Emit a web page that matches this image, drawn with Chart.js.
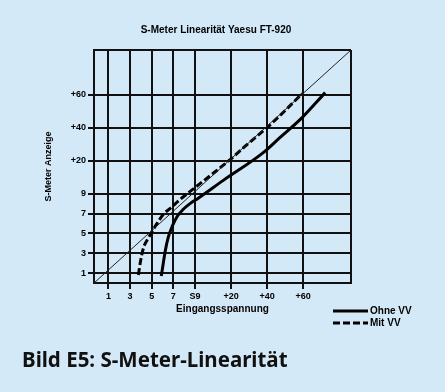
<!DOCTYPE html>
<html>
<head>
<meta charset="utf-8">
<script src="https://cdn.jsdelivr.net/npm/chart.js@4/dist/chart.umd.min.js"></script>
<style>
    html, body { margin: 0; padding: 0; background: #d4e9f7; }
    #wrap { position: relative; width: 445px; height: 392px; }
    #caption {
        position: absolute; left: 22px; top: 345px;
        font: bold 20.5px "Noto Sans", sans-serif; color: #111;
    }
</style>
</head>
<body>
<div id="wrap">
    <canvas id="chart" width="445" height="392"></canvas>
    <div id="caption">Bild E5: S-Meter-Linearität</div>
</div>
<script>
// axis positions in dB above S1 (S-unit = 6 dB)
const xTickValues = [0, 12, 24, 36, 48, 68, 88, 108];
const xTickLabels = ['1', '3', '5', '7', 'S9', '+20', '+40', '+60'];
const yTickValues = [0, 12, 24, 36, 48, 68, 88, 108];
const yTickLabels = ['1', '3', '5', '7', '9', '+20', '+40', '+60'];
const xMin = -8, xMax = 134.5;
const yMin = -6, yMax = 135;

// ideal line
const idealX = [-8, 134.5];
const idealY = [-6, 135];

// ohne Vorverstaerker
const ohneX = [29.3, 30.5, 31.6, 33.2, 35.4, 38.2, 41.5, 45.4, 49.8, 63.7, 85.3, 95.2, 107.4, 120.2];
const ohneY = [-1.8, 6.6, 13.9, 21.7, 28.4, 34.4, 38.6, 42.2, 45.3, 56.1, 72.4, 82.1, 94.1, 109.2];

// mit Vorverstaerker
const mitX = [16.6, 17.7, 19.4, 22.1, 26, 30.5, 34.3, 39.9, 48.2, 58.1, 67.6, 77, 88.6, 98, 107.4];
const mitY = [-1.2, 6.6, 15.1, 21.1, 28.4, 35.6, 39.2, 44.7, 51.9, 60.4, 68.8, 77.9, 88.7, 98.4, 108.6];

const FONT = '"Liberation Sans", Arial, sans-serif';

const toPoints = (xs, ys) => xs.map((x, i) => ({ x: x, y: ys[i] }));
const labelFor = (values, labels, v) => {
    const i = values.indexOf(v);
    return i < 0 ? '' : labels[i];
};
const edgeTick = (c) => (c.tick && c.tick.label === '') ? 'rgba(0,0,0,0)' : '#111';

const legendBox = {
    id: 'legendBox',
    afterDraw: chart => {
        const c = chart.ctx;
        const a = chart.chartArea;
        const x = a.right - 18;
        const y0 = a.bottom + 28;
        chart.data.datasets.slice(1).forEach((ds, i) => {
            const y = y0 + i * 12;
            c.save();
            c.strokeStyle = ds.borderColor;
            c.lineWidth = ds.borderWidth;
            c.setLineDash(ds.borderDash || []);
            c.beginPath();
            c.moveTo(x, y);
            c.lineTo(x + 35, y);
            c.stroke();
            c.setLineDash([]);
            c.fillStyle = '#000';
            c.font = `bold 10px ${FONT}`;
            c.textBaseline = 'middle';
            c.fillText(ds.label, x + 37, y);
            c.restore();
        });
    }
};

const ctx = document.getElementById('chart');
const chart = new Chart(ctx, {
    type: 'scatter',
    data: {
        datasets: [
            {
                label: 'ideal',
                data: toPoints(idealX, idealY),
                showLine: true,
                borderColor: '#222',
                borderWidth: 1,
                pointRadius: 0
            },
            {
                label: 'Ohne VV',
                data: toPoints(ohneX, ohneY),
                showLine: true,
                borderColor: '#000',
                borderWidth: 3,
                pointRadius: 0,
                cubicInterpolationMode: 'monotone'
            },
            {
                label: 'Mit VV',
                data: toPoints(mitX, mitY),
                showLine: true,
                borderColor: '#000',
                borderWidth: 3,
                borderDash: [7, 3],
                pointRadius: 0,
                cubicInterpolationMode: 'monotone'
            }
        ]
    },
    options: {
        responsive: false,
        animation: false,
        layout: { padding: { left: 0, right: 13, top: 0, bottom: 69 } },
        plugins: {
            legend: { display: false },
            tooltip: { enabled: false },
            title: {
                display: true,
                text: 'S-Meter Linearität Yaesu FT-920',
                color: '#000',
                font: { family: FONT, size: 10, weight: 'bold' },
                padding: { top: 24, bottom: 14 }
            }
        },
        scales: {
            x: {
                type: 'linear',
                min: xMin,
                max: xMax,
                afterBuildTicks: axis => {
                    axis.ticks = [xMin, ...xTickValues, xMax].map(v => ({ value: v }));
                },
                afterFit: s => { s.height = 40; },
                ticks: {
                    autoSkip: false,
                    maxRotation: 0,
                    padding: 2,
                    color: '#000',
                    font: { family: FONT, size: 9, weight: 'bold' },
                    callback: v => labelFor(xTickValues, xTickLabels, v)
                },
                grid: { color: '#111', lineWidth: 2, tickLength: 6, tickColor: edgeTick },
                border: { color: '#111', width: 2 },
                title: {
                    display: true,
                    text: 'Eingangsspannung',
                    color: '#000',
                    font: { family: FONT, size: 10, weight: 'bold' },
                    padding: { top: 0, bottom: 8 }
                }
            },
            y: {
                type: 'linear',
                min: yMin,
                max: yMax,
                afterBuildTicks: axis => {
                    axis.ticks = [yMin, ...yTickValues, yMax].map(v => ({ value: v }));
                },
                afterFit: s => { s.width = 94; },
                ticks: {
                    autoSkip: false,
                    padding: 2,
                    color: '#000',
                    font: { family: FONT, size: 9, weight: 'bold' },
                    callback: v => labelFor(yTickValues, yTickLabels, v)
                },
                grid: { color: '#111', lineWidth: 2, tickLength: 6, tickColor: edgeTick },
                border: { color: '#111', width: 2 },
                title: {
                    display: true,
                    text: 'S-Meter Anzeige',
                    color: '#000',
                    font: { family: FONT, size: 9, weight: 'bold' },
                    padding: { top: 43, bottom: 0 }
                }
            },
            // spacer on the right, keeps the title centred like the original
            y2: {
                position: 'right',
                display: true,
                grid: { display: false },
                border: { display: false },
                ticks: { display: false },
                afterFit: s => { s.width = 81; }
            }
        }
    },
    plugins: [legendBox]
});
</script>
</body>
</html>
